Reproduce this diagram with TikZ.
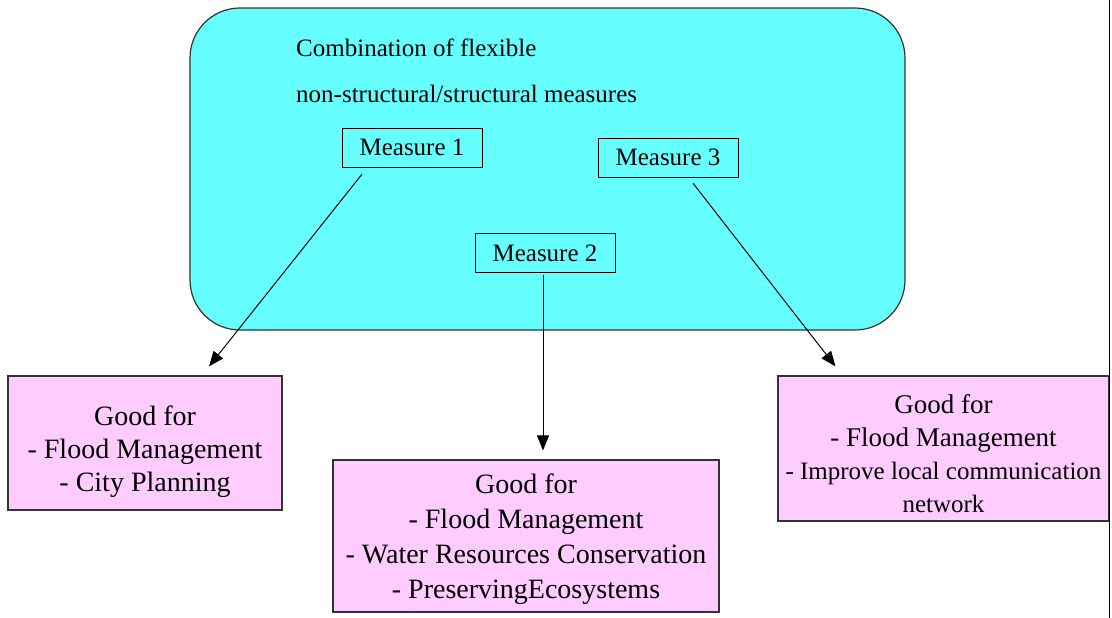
\documentclass[tikz,border=0pt]{standalone}
\usepackage{fontspec}
\setmainfont{Liberation Serif}
\usetikzlibrary{shapes.geometric, arrows.meta}
\definecolor{boxCyan}{RGB}{102,255,255}
\definecolor{boxPink}{RGB}{255,204,255}
\tikzstyle{measure} = [rectangle, minimum width=140pt, minimum height=39pt, inner sep=0pt, text centered,
draw=black, fill=boxCyan, font=\fontsize{25}{30}\selectfont]
\tikzstyle{benefit} = [rectangle, inner sep=0pt, align=center, draw=black!80, line width=1.2pt,
fill=boxPink, font=\fontsize{28}{33}\selectfont]
\tikzstyle{arrow} = [->, >={Triangle[length=15pt, width=12pt]}, line width=1pt]

\begin{document}
\begin{tikzpicture}[x=1pt, y=-1pt]
    \useasboundingbox (0,0) rectangle (1112,618);
    \node(combination)[rectangle, rounded corners=50pt, minimum width=715pt, minimum height=322pt,
        draw=black!80, line width=1.2pt, fill=boxCyan] at (547.5,169) {};
    \node(titleTop)[anchor=west, inner sep=0pt, font=\fontsize{25}{30}\selectfont] at (296,48) {Combination of flexible};
    \node(titleBottom)[anchor=west, inner sep=0pt, font=\fontsize{25}{30}\selectfont] at (296,94) {non-structural/structural measures};

    \node(measureOne)[measure] at (412,147.5) {Measure 1};
    \node(measureTwo)[measure] at (545,253) {Measure 2};
    \node(measureThree)[measure] at (668,157.5) {Measure 3};

    \node(goodLeft)[benefit, minimum width=274pt, minimum height=134pt] at (145,443)
        {\rule{0pt}{38pt}Good for\\- Flood Management\\- City Planning};
    \node(goodMid)[benefit, minimum width=386pt, minimum height=152pt, font=\fontsize{28}{35}\selectfont] at (526,536)
        {\rule{0pt}{26pt}Good for\\- Flood Management\\- Water Resources Conservation\\- PreservingEcosystems};
    \node(goodRight)[benefit, minimum width=331pt, minimum height=145pt, font=\fontsize{27}{33}\selectfont] at (943.5,448.5)
        {\rule{0pt}{29pt}Good for\\- Flood Management\\{\fontsize{25}{33}\selectfont - Improve local communication}\\{\fontsize{25}{33}\selectfont network}};

    \draw[arrow] ([xshift=-50pt, yshift=-7pt]measureOne.south) -- ([xshift=64pt, yshift=9pt]goodLeft.north);
    \draw[arrow] ([xshift=-2pt, yshift=-2pt]measureTwo.south) -- ([xshift=17pt, yshift=9pt]goodMid.north);
    \draw[arrow] ([xshift=25pt, yshift=-6pt]measureThree.south) -- ([xshift=-108pt, yshift=9pt]goodRight.north);

    % frame line at the right edge
    \draw[line width=1.2pt] (1109.5,0) -- (1109.5,618);
\end{tikzpicture}
\end{document}
